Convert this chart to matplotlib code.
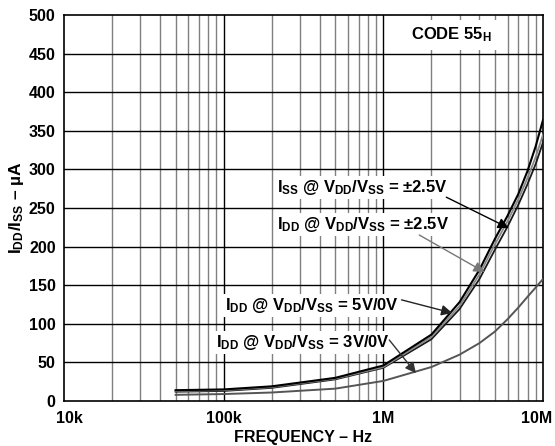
import matplotlib
matplotlib.use('Agg')
import matplotlib.pyplot as plt
from matplotlib.ticker import FixedLocator, NullFormatter
from matplotlib.transforms import ScaledTranslation
import numpy as np

# frequency points (Hz)
freq = [50e3, 100e3, 200e3, 500e3, 1e6, 2e6, 3e6, 4e6, 5e6, 6e6, 7e6, 8e6, 9e6, 10e6]
# supply current (uA)
iss_25 = [14, 15, 19, 30, 46, 86, 128, 170, 210, 240, 268, 298, 330, 364]
idd_25 = [13, 14, 18, 29, 44, 83, 123, 164, 203, 233, 261, 289, 316, 345]
idd_5v = [12, 13, 17, 28, 43, 80, 119, 158, 196, 226, 254, 281, 307, 335]
idd_3v = [8, 9, 11, 16, 26, 44, 60, 75, 90, 106, 121, 135, 147, 158]

xticks = [1e4, 1e5, 1e6, 1e7]
xticklabels = ['10k', '100k', '1M', '10M']
yticks = list(range(0, 501, 50))

plt.rcParams['font.family'] = ['Liberation Sans', 'DejaVu Sans']
plt.rcParams['font.weight'] = 'bold'
plt.rcParams['mathtext.fontset'] = 'custom'
plt.rcParams['mathtext.rm'] = 'Liberation Sans:bold'
plt.rcParams['mathtext.it'] = 'Liberation Sans:bold'
plt.rcParams['mathtext.bf'] = 'Liberation Sans:bold'
plt.rcParams['mathtext.default'] = 'rm'

fig = plt.figure(figsize=(5.55, 4.46), dpi=100)
ax = fig.add_axes([64/555, 45/446, 479/555, 386/446])

ax.set_xscale('log')
ax.set_xlim(1e4, 1e7)
ax.set_ylim(0, 500)

# grid: decades black, minor gray, horizontal black
minor = [m * 10**e for e in range(4, 7) for m in range(2, 10)]
for f in minor:
    ax.axvline(f, color='#808080', lw=1.0, zorder=1)
for f in xticks[1:-1]:
    ax.axvline(f, color='black', lw=1.0, zorder=1)
for v in yticks[1:-1]:
    ax.axhline(v, color='black', lw=1.0, zorder=1)

ax.plot(freq, idd_3v, color='#555555', lw=1.4, zorder=3)
ax.plot(freq, idd_5v, color='#1a1a1a', lw=1.3, zorder=3)
ax.plot(freq, idd_25, color='#888888', lw=1.3, zorder=3)
ax.plot(freq, iss_25, color='black', lw=1.5, zorder=3)

ax.xaxis.set_major_locator(FixedLocator(xticks))
ax.xaxis.set_minor_locator(FixedLocator(minor))
ax.xaxis.set_minor_formatter(NullFormatter())
ax.set_xticklabels(xticklabels)
ax.set_yticks(yticks)
ax.tick_params(which='both', length=0, labelsize=11.5)
ax.tick_params(axis='x', pad=7)
ax.tick_params(axis='y', pad=6)
xl = ax.get_xticklabels()
xl[0].set_transform(xl[0].get_transform() + ScaledTranslation(4/72, 0, fig.dpi_scale_trans))
xl[-1].set_transform(xl[-1].get_transform() + ScaledTranslation(-4.5/72, 0, fig.dpi_scale_trans))
for s in ax.spines.values():
    s.set_linewidth(1.2)

ax.set_xlabel('FREQUENCY – Hz', fontsize=11.5, fontweight='bold', labelpad=3)
ax.set_ylabel(r'I$_{DD}$/I$_{SS}$ – µA', fontsize=12.5, fontweight='bold', labelpad=2)

box = dict(facecolor='white', edgecolor='none', pad=1.5)
fs = 12

ax.text(0.894, 0.948, r'CODE 55$_H$', transform=ax.transAxes, ha='right', va='center',
        fontsize=12, bbox=dict(facecolor='white', edgecolor='none', pad=4), zorder=4)

labels = [
    (r'I$_{SS}$ @ V$_{DD}$/V$_{SS}$ = ±2.5V', (7.4e5, 277), (2.48e6, 264), (6.1e6, 224), 'black'),
    (r'I$_{DD}$ @ V$_{DD}$/V$_{SS}$ = ±2.5V', (7.5e5, 228), (1.68e6, 215), (4.3e6, 167), '#777777'),
    (r'I$_{DD}$ @ V$_{DD}$/V$_{SS}$ = 5V/0V', (3.55e5, 124), (1.3e6, 131), (2.7e6, 114), '#222222'),
    (r'I$_{DD}$ @ V$_{DD}$/V$_{SS}$ = 3V/0V', (3.16e5, 76), (1.09e6, 79), (1.6e6, 36), '#333333'),
]
for txt, tpos, tail, tip, col in labels:
    ax.text(tpos[0], tpos[1], txt, ha='center', va='center', fontsize=fs, bbox=box, zorder=4)
    ax.annotate('', xy=tip, xytext=tail,
                arrowprops=dict(arrowstyle='-|>', color=col, lw=1.0, mutation_scale=16,
                                shrinkA=0, shrinkB=0), zorder=5)

fig.savefig('out.png', dpi=100)
